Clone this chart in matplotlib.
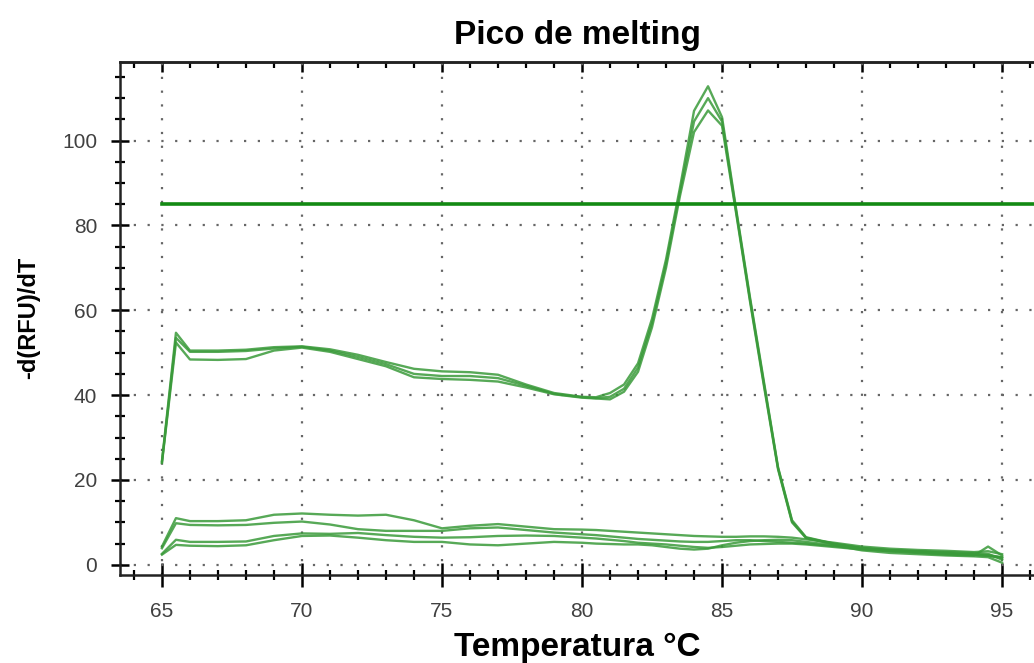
import matplotlib.pyplot as plt
from matplotlib.ticker import MultipleLocator

plt.rcParams['font.family'] = ['Liberation Sans', 'DejaVu Sans']

# temperature points (deg C)
temp = [65, 65.5, 66, 67, 68, 69, 70, 71, 72, 73, 74, 75, 76, 77, 78, 79, 80,
        80.5, 81, 81.5, 82, 82.5, 83, 83.5, 84, 84.5, 85, 85.5, 86, 86.5, 87,
        87.5, 88, 89, 90, 91, 92, 93, 94, 94.5, 95]

# samples with a melting peak
peak_a = [24.5, 54.7, 50.5, 50.5, 50.7, 51.3, 51.5, 50.8, 49.5, 47.8, 46.2, 45.6,
          45.4, 44.8, 42.5, 40.5, 39.6, 39.5, 40.5, 42.5, 47.5, 58, 72, 89, 107,
          112.8, 105.5, 84, 63, 43, 23, 10.5, 6.5, 5, 4, 3.5, 3.2, 2.8, 2.5, 2.3, 1.8]
peak_b = [24.0, 52.4, 48.4, 48.3, 48.5, 50.5, 51.2, 50.2, 48.5, 46.8, 44.2, 43.8,
          43.6, 43.2, 41.8, 40.2, 39.4, 39.2, 39.0, 40.8, 45.5, 56, 70, 87, 102,
          107.1, 103.5, 83, 62, 42, 22.5, 10, 6.3, 4.8, 3.8, 3.3, 3.0, 2.6, 2.3, 2.1, 1.6]
peak_c = [24.2, 53.5, 50.2, 50.2, 50.4, 51.0, 51.4, 50.5, 49.0, 47.3, 45.0, 44.5,
          44.5, 44.0, 42.2, 40.3, 39.5, 39.3, 39.6, 41.5, 46.5, 57, 71, 88, 104.5,
          110, 104.5, 83.5, 62.5, 42.5, 22.8, 10.2, 6.4, 4.9, 3.9, 3.4, 3.1, 2.7, 2.4, 2.2, 1.7]

# samples without product
flat_1 = [4.3, 11, 10.3, 10.3, 10.5, 11.8, 12.1, 11.8, 11.6, 11.8, 10.5, 8.6, 9.2,
          9.6, 9.0, 8.4, 8.3, 8.2, 8.0, 7.8, 7.6, 7.4, 7.2, 7.0, 6.8, 6.7, 6.6, 6.6,
          6.7, 6.7, 6.6, 6.4, 6.0, 5.2, 4.3, 3.8, 3.5, 3.3, 3.0, 3.2, 2.5]
flat_2 = [3.9, 9.8, 9.4, 9.3, 9.4, 9.9, 10.2, 9.5, 8.4, 8.0, 8.0, 8.0, 8.6, 8.8,
          8.2, 7.6, 7.2, 7.0, 6.7, 6.4, 6.1, 5.9, 5.7, 5.5, 5.4, 5.4, 5.6, 5.8, 5.8,
          5.6, 5.4, 5.2, 5.0, 4.4, 3.8, 3.4, 3.2, 3.0, 2.8, 2.6, 1.2]
flat_3 = [2.6, 5.9, 5.4, 5.4, 5.5, 6.8, 7.4, 7.3, 7.5, 7.0, 6.6, 6.4, 6.5, 6.8,
          6.9, 6.8, 6.4, 6.2, 5.9, 5.6, 5.2, 5.0, 4.8, 4.5, 4.2, 4.0, 4.2, 4.5, 4.8,
          4.9, 5.0, 5.0, 4.8, 4.2, 3.6, 3.2, 2.8, 2.4, 2.2, 4.3, 2.2]
flat_4 = [2.4, 4.7, 4.5, 4.4, 4.6, 5.8, 6.8, 6.9, 6.4, 5.8, 5.4, 5.4, 4.8, 4.6,
          5.0, 5.4, 5.2, 5.0, 4.9, 4.8, 4.8, 4.6, 4.2, 3.8, 3.6, 3.8, 4.6, 5.2, 5.6,
          5.8, 5.9, 5.8, 5.4, 4.6, 3.4, 2.8, 2.5, 2.2, 2.0, 1.8, 0.5]

threshold = 85

fig = plt.figure(figsize=(10.34, 6.63), dpi=100)
ax = fig.add_axes([0.116, 0.133, 0.884, 0.774])

for y in [flat_1, flat_2, flat_3, flat_4, peak_a, peak_b, peak_c]:
    ax.plot(temp, y, color='#3a9a3a', lw=1.7, alpha=0.85)

ax.plot([65, 97], [threshold, threshold], color='#138a13', lw=2.6)

ax.set_xlim(63.5, 96.14)
ax.set_ylim(-2.36, 118.6)

ax.xaxis.set_major_locator(MultipleLocator(5))
ax.xaxis.set_minor_locator(MultipleLocator(1))
ax.yaxis.set_major_locator(MultipleLocator(20))
ax.yaxis.set_minor_locator(MultipleLocator(5))

ax.grid(True, which='major', color='#666666', lw=1.6, linestyle=(0, (1, 5.2)))

ax.tick_params(axis='x', which='major', direction='inout', length=17, width=1.8,
               pad=11, labelsize=15, labelcolor='#404040')
ax.tick_params(axis='x', which='minor', direction='inout', length=7, width=1.6)
ax.tick_params(axis='y', which='major', direction='inout', length=13, width=1.8,
               pad=10, labelsize=15, labelcolor='#404040')
ax.tick_params(axis='y', which='minor', direction='inout', length=7, width=1.6)

top = ax.secondary_xaxis('top')
top.xaxis.set_major_locator(MultipleLocator(5))
top.xaxis.set_minor_locator(MultipleLocator(1))
top.tick_params(which='major', direction='in', length=7, width=1.8, labeltop=False)
top.tick_params(which='minor', direction='in', length=4, width=1.6)
top.spines['top'].set_linewidth(1.8)
top.spines['top'].set_color('#222222')

for s in ['left', 'bottom', 'top']:
    ax.spines[s].set_linewidth(1.8)
    ax.spines[s].set_color('#222222')
ax.spines['right'].set_visible(False)

ax.set_title('Pico de melting', fontsize=24, fontweight='bold', pad=13)
ax.set_xlabel('Temperatura °C', fontsize=24, fontweight='bold', labelpad=8)
ax.set_ylabel('-d(RFU)/dT', fontsize=17, fontweight='bold', labelpad=16)

fig.savefig('out.png', dpi=100)
